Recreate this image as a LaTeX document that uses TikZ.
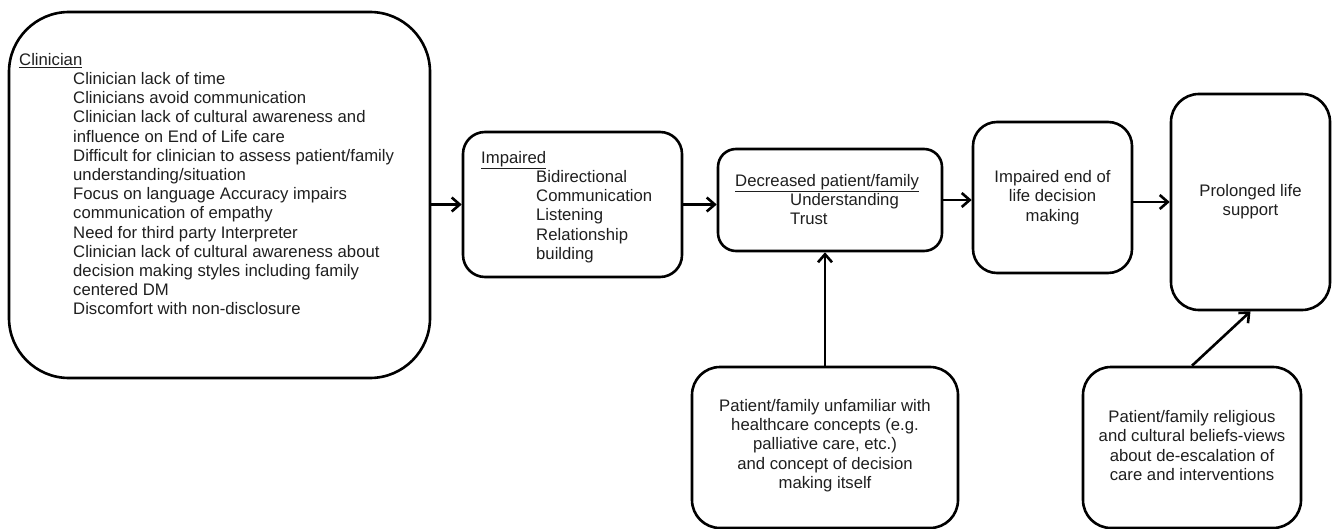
\documentclass[tikz,border=0pt]{standalone}
\usepackage{fontspec}
\setmainfont{Liberation Sans}
\usetikzlibrary{arrows.meta}
\tikzset{
  box/.style={draw=black, line width=2.6bp, rounded corners=#1, inner sep=0pt, fill=white},
  box/.default=22bp,
  txt/.style={inner sep=0pt, font=\fontsize{16.7bp}{19.2bp}\selectfont, text=black!88},
  conn/.style={line width=2.6bp, -{Straight Barb[length=8bp,width=14bp,line width=2.6bp]}},
}
\begin{document}
\begin{tikzpicture}[x=1bp,y=-1bp]
\useasboundingbox (0,0) rectangle (1332,529);
% boxes
\node[box=60bp, minimum width=421bp, minimum height=366bp] (clin) at (219.5,195) {};
\node[box=22bp, minimum width=219bp, minimum height=145bp] (imp) at (572.5,204.5) {};
\node[box=18bp, minimum width=224bp, minimum height=102bp] (dec) at (830,200) {};
\node[box=24bp, minimum width=159bp, minimum height=151bp] (eol) at (1052.5,197.5) {};
\node[box=28bp, minimum width=159bp, minimum height=216bp] (prol) at (1250.5,202) {};
\node[box=28bp, minimum width=266bp, minimum height=161bp] (unf) at (825,447.5) {};
\node[box=28bp, minimum width=218bp, minimum height=161bp] (rel) at (1192,447.5) {};
% texts
\node[txt, anchor=north west, align=left] (clintext) at (19,53) {\underline{Clinician}\\
\hspace*{54bp}Clinician lack of time\\
\hspace*{54bp}Clinicians avoid communication\\
\hspace*{54bp}Clinician lack of cultural awareness and\\
\hspace*{54bp}influence on End of Life care\\
\hspace*{54bp}Difficult for clinician to assess patient/family\\
\hspace*{54bp}understanding/situation\\
\hspace*{54bp}Focus on language Accuracy impairs\\
\hspace*{54bp}communication of empathy\\
\hspace*{54bp}Need for third party Interpreter\\
\hspace*{54bp}Clinician lack of cultural awareness about\\
\hspace*{54bp}decision making styles including family\\
\hspace*{54bp}centered DM\\
\hspace*{54bp}Discomfort with non-disclosure};
\node[txt, anchor=north west, align=left] (imptext) at (481,151) {\underline{Impaired}\\
\hspace*{55bp}Bidirectional\\
\hspace*{55bp}Communication\\
\hspace*{55bp}Listening\\
\hspace*{55bp}Relationship\\
\hspace*{55bp}building};
\node[txt, anchor=north west, align=left] (dectext) at (735,174) {\underline{Decreased patient/family}\\
\hspace*{55bp}Understanding\\
\hspace*{55bp}Trust};
\node[txt, align=center] (eoltext) at (eol.center) {Impaired end of\\life decision\\making};
\node[txt, align=center] (proltext) at (prol.center) {Prolonged life\\support};
\node[txt, align=center] (unftext) at ([yshift=2bp]unf.center) {Patient/family unfamiliar with\\healthcare concepts (e.g.\\palliative care, etc.)\\and concept of decision\\making itself};
\node[txt, align=center] (reltext) at ([yshift=2bp]rel.center) {Patient/family religious\\and cultural beliefs-views\\about de-escalation of\\care and interventions};
% connectors
\draw[conn] (clin.east |- imp.west) -- (imp.west);
\draw[conn] (imp.east) -- (imp.east -| dec.west);
\draw[conn] (dec.east) -- (dec.east -| eol.west);
\draw[conn] (eol.east |- prol.west) -- (prol.west);
\draw[conn] (unf.north) -- (unf.north |- dec.south);
\draw[conn] (rel.north) -- (prol.south);
\end{tikzpicture}
\end{document}
